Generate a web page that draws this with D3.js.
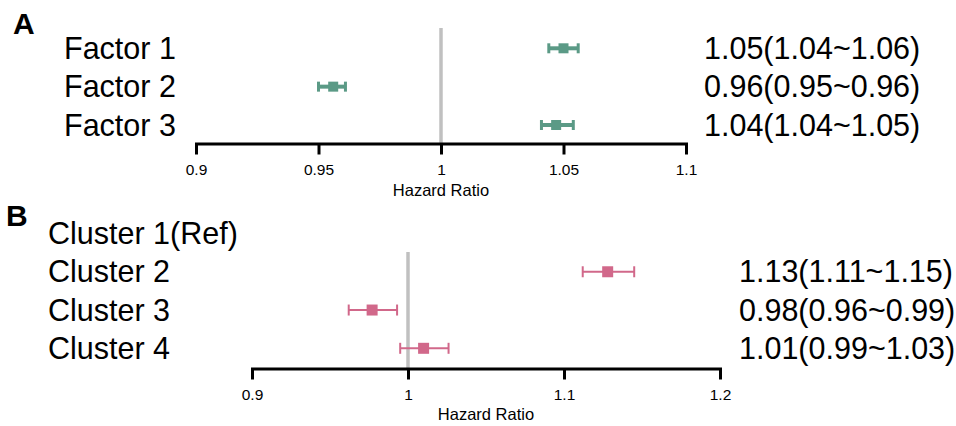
<!DOCTYPE html>
<html>
<head>
<meta charset="utf-8">
<script src="https://cdn.jsdelivr.net/npm/d3@7"></script>
<style>
  body { margin: 0; background: #fff; }
  svg text { font-family: "Liberation Sans", Arial, sans-serif; fill: #000; }
</style>
</head>
<body>
<div id="chart"></div>
<script>
// dane panelu A
var factorLabels = ["Factor 1", "Factor 2", "Factor 3"]
var factorHR = [1.050, 0.956, 1.047]
var factorLo = [1.044, 0.950, 1.041]
var factorHi = [1.056, 0.961, 1.054]
var factorText = ["1.05(1.04~1.06)", "0.96(0.95~0.96)", "1.04(1.04~1.05)"]
var factorTicks = [0.9, 0.95, 1, 1.05, 1.1]

// dane panelu B (Cluster 1 to referencja, bez wartości)
var clusterLabels = ["Cluster 1(Ref)", "Cluster 2", "Cluster 3", "Cluster 4"]
var clusterHR = [null, 1.128, 0.977, 1.010]
var clusterLo = [null, 1.112, 0.962, 0.995]
var clusterHi = [null, 1.145, 0.993, 1.026]
var clusterText = ["", "1.13(1.11~1.15)", "0.98(0.96~0.99)", "1.01(0.99~1.03)"]
var clusterTicks = [0.9, 1, 1.1, 1.2]

var width = 956
var height = 426

var svg = d3.select("#chart")
  .append("svg")
    .attr("width", width)
    .attr("height", height)

function drawPanel(opt) {
  var g = svg.append("g")

  var x = d3.scaleLinear().domain(opt.domain).range(opt.xRange)
  var y = d3.scalePoint().domain(opt.labels).range(opt.yRange)

  // litera panelu
  g.append("text")
    .attr("x", opt.letterX).attr("y", opt.letterY)
    .style("font-size", "30px").style("font-weight", "bold")
    .text(opt.letter)

  // linia referencyjna HR = 1
  g.append("line")
    .attr("x1", x(1)).attr("x2", x(1))
    .attr("y1", opt.refTop).attr("y2", opt.axisY)
    .attr("stroke", "#c0c0c0").attr("stroke-width", 3.5)

  // oś
  var axis = g.append("g")
    .attr("transform", "translate(0," + opt.axisY + ")")
    .call(d3.axisBottom(x).tickValues(opt.ticks).tickSize(11).tickSizeOuter(0)
      .tickFormat(function(d) { return String(d) }))
  axis.select(".domain").attr("stroke", "#000").attr("stroke-width", 3).attr("stroke-linecap", "square")
  axis.selectAll(".tick line").attr("stroke", "#000").attr("stroke-width", 3)
  axis.selectAll(".tick text")
    .attr("y", opt.tickLabelDy).attr("dy", 0)
    .style("font-size", "15.5px").style("font-family", "\"Liberation Sans\", Arial, sans-serif")
    .attr("fill", "#000")

  g.append("text")
    .attr("x", (opt.xRange[0] + opt.xRange[1]) / 2)
    .attr("y", opt.axisY + opt.titleDy)
    .attr("text-anchor", "middle")
    .style("font-size", "16.5px")
    .text("Hazard Ratio")

  // etykiety wierszy
  g.selectAll(".rowlab")
    .data(opt.labels)
    .enter().append("text")
      .attr("x", opt.labelX)
      .attr("y", function(d) { return y(d) })
      .attr("dy", "0.35em")
      .style("font-size", "30.5px")
      .text(function(d) { return d })

  // wartości HR (CI)
  g.selectAll(".valtxt")
    .data(opt.labels)
    .enter().append("text")
      .attr("x", opt.textX)
      .attr("y", function(d) { return y(d) })
      .attr("dy", "0.35em")
      .style("font-size", "30.5px")
      .text(function(d, i) { return opt.text[i] })

  // przedziały ufności
  var rows = opt.labels.map(function(l, i) {
    return { label: l, hr: opt.hr[i], lo: opt.lo[i], hi: opt.hi[i] }
  }).filter(function(d) { return d.hr != null })

  var bars = g.selectAll(".bar").data(rows).enter().append("g")

  bars.append("line")
    .attr("x1", function(d) { return x(d.lo) })
    .attr("x2", function(d) { return x(d.hi) })
    .attr("y1", function(d) { return y(d.label) })
    .attr("y2", function(d) { return y(d.label) })
    .attr("stroke", opt.color).attr("stroke-width", opt.lineW)

  ;["lo", "hi"].forEach(function(k) {
    bars.append("line")
      .attr("x1", function(d) { return x(d[k]) })
      .attr("x2", function(d) { return x(d[k]) })
      .attr("y1", function(d) { return y(d.label) - opt.capH / 2 })
      .attr("y2", function(d) { return y(d.label) + opt.capH / 2 })
      .attr("stroke", opt.color).attr("stroke-width", opt.capW)
  })

  bars.append("rect")
    .attr("x", function(d) { return x(d.hr) - opt.box / 2 })
    .attr("y", function(d) { return y(d.label) - opt.box / 2 })
    .attr("width", opt.box).attr("height", opt.box)
    .attr("fill", opt.color)
}

drawPanel({
  letter: "A", letterX: 13, letterY: 34,
  labels: factorLabels, hr: factorHR, lo: factorLo, hi: factorHi, text: factorText,
  ticks: factorTicks, domain: [0.9, 1.1], xRange: [196, 686],
  yRange: [48.3, 125], axisY: 143.5, refTop: 28,
  labelX: 64, textX: 704, tickLabelDy: 31.5, titleDy: 52,
  color: "#5b9a86", lineW: 4, capW: 3, capH: 10, box: 10
})

drawPanel({
  letter: "B", letterX: 6, letterY: 226,
  labels: clusterLabels, hr: clusterHR, lo: clusterLo, hi: clusterHi, text: clusterText,
  ticks: clusterTicks, domain: [0.9, 1.2], xRange: [252, 720],
  yRange: [233.5, 348.3], axisY: 368.5, refTop: 252,
  labelX: 48, textX: 739, tickLabelDy: 31.5, titleDy: 51.5,
  color: "#d1688a", lineW: 2, capW: 2, capH: 11, box: 11
})
</script>
</body>
</html>
